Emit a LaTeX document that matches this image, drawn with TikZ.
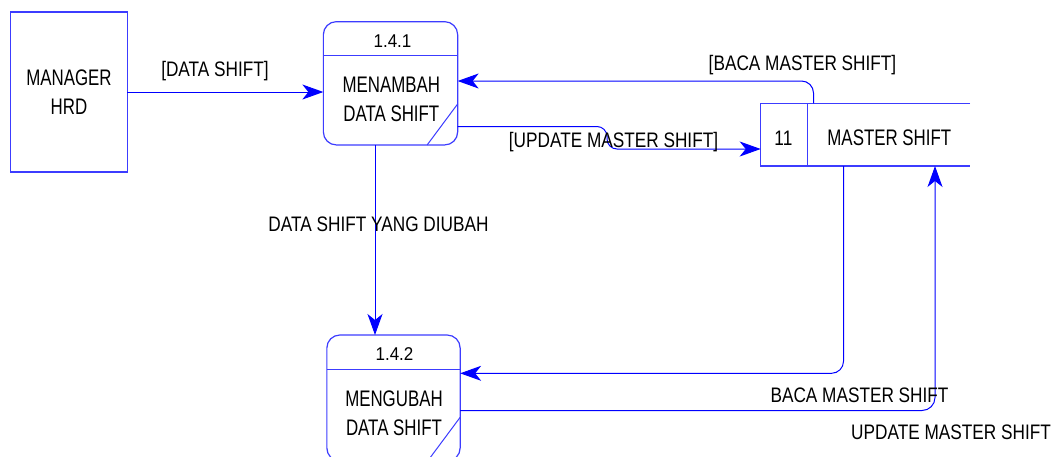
\documentclass[tikz,border=0pt]{standalone}
\usepackage{fontspec}
\setmainfont{Liberation Sans}
\newfontfamily\nodefont{Liberation Sans}[FakeStretch=0.75]
\newfontfamily\labfont{Liberation Sans}[FakeStretch=0.82]
\newfontfamily\numfont{Liberation Sans}[FakeStretch=0.92]
\usetikzlibrary{arrows.meta,calc}
\definecolor{boxblue}{RGB}{60,60,255}
\definecolor{flowblue}{RGB}{0,0,255}
\begin{document}
\begin{tikzpicture}[x=1pt,y=-1pt,
  shapeline/.style={draw=boxblue, line width=1.2pt},
  ent/.style={shapeline, minimum width=116.5, minimum height=160, inner sep=0, outer sep=0,
    align=center, font=\nodefont\fontsize{22.5}{29}\selectfont},
  proc/.style={shapeline, rounded corners=13, inner sep=0, outer sep=0},
  ptext/.style={align=center, inner sep=0, font=\nodefont\fontsize{22.5}{29}\selectfont},
  ntext/.style={anchor=base, inner sep=0, font=\numfont\fontsize{18.5}{22}\selectfont},
  lab/.style={anchor=base, inner sep=0, font=\labfont\fontsize{21}{25}\selectfont},
  flow/.style={draw=flowblue, line width=1pt, -{Stealth[length=21pt,width=15pt,inset=6pt]}}]
\clip (0,0) rectangle (1056,456);
\fill[white] (0,0) rectangle (1056,456);
% helper coordinates for connector levels
\coordinate (x375) at (375,0);
\coordinate (x814) at (813.5,0);
\coordinate (x844) at (843.5,0);
\coordinate (x935) at (935,0);
\coordinate (x608) at (607,0);
\coordinate (y81) at (0,81);
\coordinate (y127) at (0,126.5);
\coordinate (y149) at (0,149);
\coordinate (y373) at (0,373.3);
\coordinate (y410) at (0,410.5);
% external entity
\node[ent] (mgr) at (69,92) {MANAGER\\HRD};
% process 1.4.1
\node[proc, minimum width=134.3, minimum height=123.3] (p1) at (390.5,83.3) {};
\draw[shapeline] ($(p1.north west)+(0,33.5)$) -- ($(p1.north east)+(0,33.5)$);
\draw[shapeline, line width=1pt] ($(p1.south east)+(-30.5,0)$) -- ($(p1.south east)+(0,-41)$);
\node[ntext] (p1n) at (392.5,47.3) {1.4.1};
\node[ptext] (p1t) at (391.3,99.3) {MENAMBAH\\DATA SHIFT};
% process 1.4.2
\node[proc, minimum width=133.3, minimum height=126] (p2) at (393.5,398) {};
\draw[shapeline] ($(p2.north west)+(0,34.3)$) -- ($(p2.north east)+(0,34.3)$);
\draw[shapeline, line width=1pt] ($(p2.south east)+(-32.5,0)$) -- ($(p2.south east)+(0,-43.7)$);
\node[ntext] (p2n) at (394.5,360.7) {1.4.2};
\node[ptext] (p2t) at (394,413.3) {MENGUBAH\\DATA SHIFT};
% data store
\node[minimum width=209.3, minimum height=62.7, inner sep=0, outer sep=0] (st) at (865.35,134.65) {};
\draw[shapeline] (st.north east) -- (st.north west) -- (st.south west) -- (st.south east);
\draw[shapeline] ($(st.north west)+(46.6,0)$) -- ($(st.south west)+(46.6,0)$);
\node[lab] (stn) at (783.4,145) {11};
\node[ptext, anchor=base] (stt) at (889.3,145) {MASTER SHIFT};
% flows
\draw[flow] (mgr.east) -- (mgr.east -| p1.west);
\draw[flow, rounded corners=12] (st.north -| x814) |- (p1.east |- y81);
\draw[flow, rounded corners=10] (p1.east |- y127) -| (x608 |- y149) -- (st.west |- y149);
\draw[flow] (p1.south -| x375) -- (p2.north -| x375);
\draw[flow, rounded corners=12] (st.south -| x844) |- (p2.east |- y373);
\draw[flow, rounded corners=13] (p2.east |- y410) -| (st.south -| x935);
% labels
\node[lab] (l1) at (215,76.7) {[DATA SHIFT]};
\node[lab] (l2) at (802.5,70) {[BACA MASTER SHIFT]};
\node[lab] (l3) at (613.5,147) {[UPDATE MASTER SHIFT]};
\node[lab] (l4) at (378.5,231.7) {DATA SHIFT YANG DIUBAH};
\node[lab] (l5) at (859.5,402) {BACA MASTER SHIFT};
\node[lab] (l6) at (951,439) {UPDATE MASTER SHIFT};
\end{tikzpicture}
\end{document}
